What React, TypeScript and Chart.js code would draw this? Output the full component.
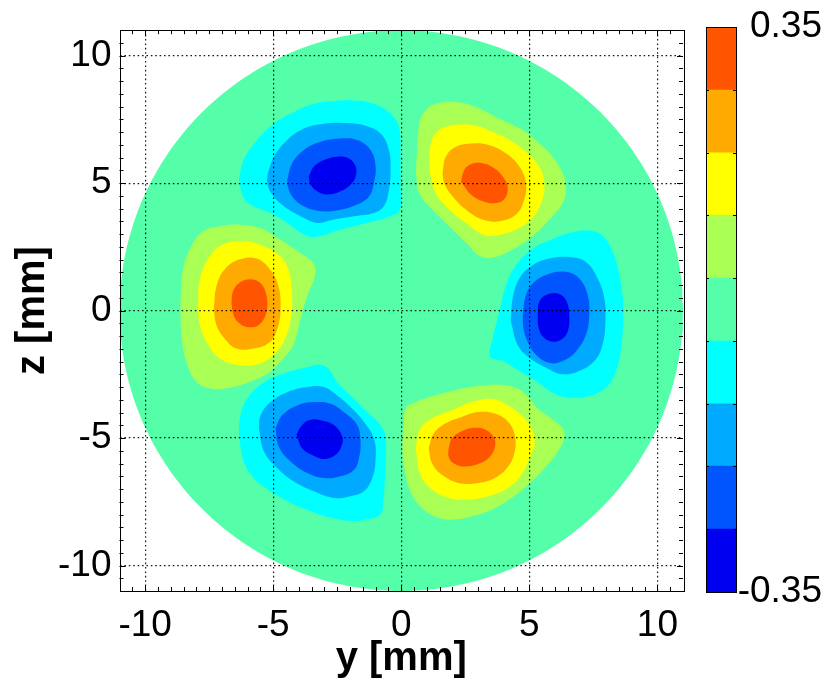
import React, { useEffect, useRef } from "react";
import { Chart, registerables, type ChartConfiguration, type Plugin } from "chart.js";

Chart.register(...registerables);

type Pt = [number, number];

const FONT = "'Liberation Sans', Arial, Helvetica, sans-serif";

// axes, in mm
const axisMin = -11;
const axisMax = 11;
const axisTicks = [-10, -5, 0, 5, 10];
const minorStep = 0.5;
const domainRadius = 11;

// filled contour colours, lowest level first
const levelColors = [
  "#0000F0",
  "#0055FF",
  "#00AAFF",
  "#00FFFF",
  "#55FFAA",
  "#AAFF55",
  "#FFFF00",
  "#FFAA00",
  "#FF5500",
];
const colorbarEdges = [-0.35, -0.272, -0.194, -0.117, -0.039, 0.039, 0.117, 0.194, 0.272, 0.35];
const colorbarLabels = [-0.35, 0.35];

// upper-left minimum
const nwLevel1: Pt[] = [
  [-6.34, 5.13], [-6.15, 5.91], [-5.63, 6.69], [-4.97, 7.33], [-4.19, 7.79], [-3.41, 8.11],
  [-2.63, 8.22], [-1.85, 8.24], [-1.07, 8.11], [-0.42, 7.72], [-0.09, 7.2], [-0.03, 6.3],
  [-0.03, 5.0], [-0.05, 3.96], [-0.42, 3.7], [-1.33, 3.44], [-2.37, 3.18], [-3.28, 2.9],
  [-3.8, 2.99], [-4.45, 3.44], [-5.1, 3.83], [-5.76, 4.09], [-6.15, 4.42],
];
const nwLevel2: Pt[] = [
  [-5.21, 5.39], [-4.97, 6.04], [-4.45, 6.69], [-3.8, 7.14], [-3.02, 7.33], [-2.24, 7.36],
  [-1.46, 7.27], [-0.81, 6.95], [-0.48, 6.3], [-0.42, 5.52], [-0.48, 4.74], [-0.68, 4.09],
  [-1.07, 3.83], [-1.85, 3.7], [-2.63, 3.57], [-3.28, 3.44], [-3.93, 3.7], [-4.58, 4.09],
  [-5.04, 4.55], [-5.23, 5.0],
];
const nwLevel3: Pt[] = [
  [-4.45, 5.13], [-4.26, 5.78], [-3.8, 6.3], [-3.15, 6.62], [-2.37, 6.75], [-1.72, 6.69],
  [-1.2, 6.3], [-1.0, 5.65], [-1.07, 5.0], [-1.26, 4.48], [-1.72, 4.16], [-2.37, 3.96],
  [-3.15, 3.9], [-3.8, 4.09], [-4.26, 4.48], [-4.43, 4.87],
];
const nwLevel4: Pt[] = [
  [-3.61, 5.26], [-3.41, 5.65], [-3.02, 5.91], [-2.5, 6.04], [-2.04, 5.97], [-1.78, 5.65],
  [-1.78, 5.26], [-1.98, 4.94], [-2.37, 4.68], [-2.89, 4.55], [-3.28, 4.68], [-3.54, 4.94],
];

// upper-right maximum
const neLevel1: Pt[] = [
  [0.57, 5.39], [0.7, 7.33], [0.9, 7.79], [1.35, 8.11], [2.14, 8.18], [2.92, 7.98],
  [3.83, 7.53], [4.74, 7.08], [5.39, 6.56], [5.91, 6.04], [6.3, 5.39], [6.43, 4.87],
  [6.3, 4.22], [5.78, 3.57], [5.13, 2.92], [4.35, 2.41], [3.57, 2.08], [3.05, 2.15],
  [2.53, 2.67], [1.88, 3.31], [1.22, 3.96], [0.7, 4.61],
];
const neLevel2: Pt[] = [
  [1.09, 5.52], [1.16, 6.56], [1.48, 7.08], [2.01, 7.27], [2.79, 7.27], [3.57, 7.01],
  [4.35, 6.62], [5.0, 6.1], [5.46, 5.52], [5.59, 4.87], [5.46, 4.22], [5.07, 3.57],
  [4.48, 3.18], [3.7, 2.95], [3.18, 2.99], [2.53, 3.44], [1.88, 3.96], [1.35, 4.61],
];
const neLevel3: Pt[] = [
  [1.61, 5.39], [1.74, 6.04], [2.14, 6.43], [2.79, 6.56], [3.44, 6.49], [4.09, 6.17],
  [4.61, 5.65], [4.87, 5.0], [4.8, 4.35], [4.48, 3.77], [3.83, 3.51], [3.18, 3.57],
  [2.53, 3.96], [2.01, 4.48], [1.68, 5.0],
];
const neLevel4: Pt[] = [
  [2.33, 5.06], [2.46, 5.52], [2.72, 5.74], [3.18, 5.78], [3.63, 5.58], [3.96, 5.26],
  [4.15, 4.87], [4.06, 4.42], [3.7, 4.22], [3.18, 4.29], [2.72, 4.55],
];

// left maximum
const wLevel1: Pt[] = [
  [-8.62, 0.32], [-8.52, 1.62], [-8.19, 2.53], [-7.73, 3.11], [-7.08, 3.31], [-6.3, 3.37],
  [-5.52, 3.24], [-4.74, 2.79], [-3.96, 2.27], [-3.41, 1.82], [-3.37, 1.36], [-3.57, 0.84],
  [-3.76, 0.32], [-3.96, -0.45], [-4.22, -1.36], [-4.61, -1.88], [-5.13, -2.4], [-5.91, -2.79],
  [-6.82, -3.05], [-7.47, -3.05], [-8.0, -2.79], [-8.39, -2.01], [-8.58, -0.97],
];
const wLevel2: Pt[] = [
  [-7.93, 0.06], [-7.86, 1.23], [-7.47, 2.14], [-6.95, 2.59], [-6.17, 2.72], [-5.39, 2.53],
  [-4.74, 2.14], [-4.41, 1.62], [-4.28, 0.84], [-4.28, -0.06], [-4.48, -0.97], [-4.87, -1.62],
  [-5.52, -2.08], [-6.3, -2.14], [-7.08, -1.88], [-7.6, -1.23], [-7.86, -0.58],
];
const wLevel3: Pt[] = [
  [-7.32, 0.06], [-7.21, 0.97], [-6.89, 1.62], [-6.3, 2.01], [-5.65, 2.04], [-5.13, 1.62],
  [-4.8, 0.97], [-4.71, 0.19], [-4.8, -0.58], [-5.13, -1.23], [-5.78, -1.49], [-6.43, -1.49],
  [-6.89, -1.1], [-7.21, -0.58],
];
const wLevel4: Pt[] = [
  [-6.63, 0.32], [-6.56, 0.78], [-6.3, 1.1], [-5.91, 1.23], [-5.52, 1.1], [-5.29, 0.71],
  [-5.23, 0.19], [-5.33, -0.26], [-5.59, -0.58], [-5.98, -0.65], [-6.3, -0.52], [-6.54, -0.19],
];

// right minimum
const eLevel1: Pt[] = [
  [3.44, -1.6], [3.57, -1.08], [3.83, -0.04], [4.09, 1.0], [4.48, 1.78], [5.13, 2.43],
  [5.91, 2.81], [6.69, 3.07], [7.34, 3.14], [7.86, 2.94], [8.26, 2.3], [8.52, 1.39],
  [8.65, 0.48], [8.67, -0.43], [8.58, -1.47], [8.39, -2.37], [7.99, -3.02], [7.34, -3.35],
  [6.56, -3.41], [5.91, -3.22], [5.26, -2.76], [4.61, -2.37], [3.96, -1.98], [3.5, -1.85],
];
const eLevel2: Pt[] = [
  [4.28, -0.43], [4.35, 0.48], [4.61, 1.26], [5.13, 1.78], [5.78, 2.04], [6.56, 2.1],
  [7.21, 1.91], [7.67, 1.26], [7.93, 0.48], [7.97, -0.43], [7.86, -1.34], [7.54, -1.98],
  [6.95, -2.37], [6.3, -2.5], [5.65, -2.24], [5.0, -1.85], [4.54, -1.34],
];
const eLevel3: Pt[] = [
  [4.74, -0.17], [4.87, 0.61], [5.2, 1.13], [5.78, 1.45], [6.43, 1.52], [6.95, 1.26],
  [7.28, 0.61], [7.34, -0.17], [7.21, -0.95], [6.82, -1.6], [6.3, -1.98], [5.78, -2.05],
  [5.26, -1.73], [4.93, -1.21], [4.77, -0.69],
];
const eLevel4: Pt[] = [
  [5.33, -0.17], [5.39, 0.35], [5.65, 0.61], [6.11, 0.67], [6.43, 0.42], [6.56, -0.17],
  [6.5, -0.82], [6.24, -1.14], [5.85, -1.21], [5.52, -1.01], [5.35, -0.62],
];

// lower-left minimum
const swLevel1: Pt[] = [
  [-6.34, -4.88], [-6.28, -4.11], [-6.02, -3.46], [-5.36, -2.81], [-4.45, -2.42], [-3.67, -2.22],
  [-3.15, -2.13], [-2.83, -2.29], [-2.5, -2.81], [-1.98, -3.33], [-1.33, -3.98], [-0.81, -4.49],
  [-0.61, -5.01], [-0.61, -5.92], [-0.65, -6.83], [-0.7, -7.48], [-0.81, -8.0], [-1.33, -8.19],
  [-1.85, -8.26], [-2.76, -8.13], [-3.54, -7.87], [-4.45, -7.48], [-5.1, -7.09], [-5.76, -6.57],
  [-6.15, -5.92],
];
const swLevel2: Pt[] = [
  [-5.56, -4.62], [-5.49, -4.11], [-5.1, -3.59], [-4.45, -3.2], [-3.67, -3.0], [-3.02, -3.0],
  [-2.5, -3.33], [-1.98, -3.78], [-1.46, -4.36], [-1.07, -5.01], [-1.0, -5.79], [-1.13, -6.57],
  [-1.46, -7.09], [-1.98, -7.28], [-2.63, -7.35], [-3.41, -7.09], [-4.19, -6.7], [-4.84, -6.18],
  [-5.36, -5.53],
];
const swLevel3: Pt[] = [
  [-4.91, -4.62], [-4.65, -4.11], [-4.06, -3.72], [-3.41, -3.59], [-2.76, -3.65], [-2.24, -3.98],
  [-1.72, -4.49], [-1.59, -5.14], [-1.65, -5.79], [-1.85, -6.25], [-2.37, -6.5], [-3.02, -6.57],
  [-3.67, -6.37], [-4.32, -5.92], [-4.78, -5.34],
];
const swLevel4: Pt[] = [
  [-4.09, -4.88], [-3.93, -4.56], [-3.61, -4.3], [-3.15, -4.3], [-2.63, -4.49], [-2.3, -4.95],
  [-2.34, -5.34], [-2.57, -5.66], [-3.02, -5.82], [-3.48, -5.66], [-3.87, -5.4],
];

// lower-right maximum
const seLevel1: Pt[] = [
  [0.1, -4.49], [0.17, -3.85], [0.56, -3.59], [1.33, -3.33], [2.36, -3.07], [3.14, -2.94],
  [3.91, -2.91], [4.56, -3.07], [4.95, -3.39], [5.34, -3.85], [5.85, -4.23], [6.3, -4.62],
  [6.37, -4.95], [6.11, -5.53], [5.59, -6.18], [4.95, -6.83], [4.3, -7.35], [3.66, -7.74],
  [3.01, -8.0], [2.11, -8.19], [1.46, -8.13], [0.81, -7.74], [0.36, -7.09], [0.1, -6.05],
  [0.04, -5.27],
];
const seLevel2: Pt[] = [
  [0.56, -5.4], [0.75, -4.62], [1.2, -4.23], [1.98, -3.91], [2.75, -3.59], [3.53, -3.46],
  [4.17, -3.72], [4.69, -4.11], [5.08, -4.62], [5.21, -5.21], [5.01, -5.79], [4.69, -6.44],
  [4.17, -6.96], [3.4, -7.28], [2.62, -7.41], [1.85, -7.35], [1.2, -7.02], [0.75, -6.44],
];
const seLevel3: Pt[] = [
  [1.07, -5.4], [1.27, -4.82], [1.72, -4.43], [2.36, -4.17], [3.01, -3.98], [3.66, -4.04],
  [4.17, -4.36], [4.43, -4.88], [4.43, -5.53], [4.17, -6.12], [3.66, -6.57], [3.01, -6.76],
  [2.24, -6.76], [1.59, -6.44], [1.2, -5.99],
];
const seLevel4: Pt[] = [
  [1.85, -5.4], [1.98, -5.01], [2.36, -4.73], [2.88, -4.6], [3.33, -4.69], [3.63, -5.01],
  [3.66, -5.34], [3.46, -5.73], [3.07, -5.99], [2.49, -6.12], [2.04, -5.99], [1.85, -5.73],
];

// circular domain outline
const diskOutline: Pt[] = Array.from({ length: 240 }, (_, i) => {
  const a = (i / 240) * Math.PI * 2;
  return [domainRadius * Math.cos(a), domainRadius * Math.sin(a)] as Pt;
});

const contours: { pts: Pt[]; level: number; smooth: boolean }[] = [
  { pts: diskOutline, level: 4, smooth: false },
  { pts: nwLevel1, level: 3, smooth: true },
  { pts: nwLevel2, level: 2, smooth: true },
  { pts: nwLevel3, level: 1, smooth: true },
  { pts: nwLevel4, level: 0, smooth: true },
  { pts: neLevel1, level: 5, smooth: true },
  { pts: neLevel2, level: 6, smooth: true },
  { pts: neLevel3, level: 7, smooth: true },
  { pts: neLevel4, level: 8, smooth: true },
  { pts: wLevel1, level: 5, smooth: true },
  { pts: wLevel2, level: 6, smooth: true },
  { pts: wLevel3, level: 7, smooth: true },
  { pts: wLevel4, level: 8, smooth: true },
  { pts: eLevel1, level: 3, smooth: true },
  { pts: eLevel2, level: 2, smooth: true },
  { pts: eLevel3, level: 1, smooth: true },
  { pts: eLevel4, level: 0, smooth: true },
  { pts: swLevel1, level: 3, smooth: true },
  { pts: swLevel2, level: 2, smooth: true },
  { pts: swLevel3, level: 1, smooth: true },
  { pts: swLevel4, level: 0, smooth: true },
  { pts: seLevel1, level: 5, smooth: true },
  { pts: seLevel2, level: 6, smooth: true },
  { pts: seLevel3, level: 7, smooth: true },
  { pts: seLevel4, level: 8, smooth: true },
];

// box with inward minor ticks, like the matlab axes
const framePlugin: Plugin<"line"> = {
  id: "frame",
  afterDraw(chart) {
    const { ctx, chartArea: a } = chart;
    const x = chart.scales.x;
    const y = chart.scales.y;
    ctx.save();
    ctx.strokeStyle = "#000";
    ctx.lineWidth = 1;
    ctx.beginPath();
    for (let v = axisMin + minorStep; v < axisMax; v += minorStep) {
      const len = axisTicks.includes(v) ? 6 : 4;
      const px = Math.round(x.getPixelForValue(v)) + 0.5;
      ctx.moveTo(px, a.bottom);
      ctx.lineTo(px, a.bottom - len);
      ctx.moveTo(px, a.top);
      ctx.lineTo(px, a.top + len);
      const py = Math.round(y.getPixelForValue(v)) + 0.5;
      ctx.moveTo(a.left, py);
      ctx.lineTo(a.left + len, py);
      ctx.moveTo(a.right, py);
      ctx.lineTo(a.right - len, py);
    }
    ctx.stroke();
    ctx.strokeRect(
      Math.round(a.left) + 0.5,
      Math.round(a.top) + 0.5,
      Math.round(a.right - a.left),
      Math.round(a.bottom - a.top),
    );
    ctx.restore();
  },
};

const colorbarFramePlugin: Plugin<"bar"> = {
  id: "cbframe",
  afterDraw(chart) {
    const { ctx, chartArea: a } = chart;
    const y = chart.scales.y;
    ctx.save();
    ctx.strokeStyle = "#000";
    ctx.lineWidth = 1;
    ctx.beginPath();
    for (const e of colorbarEdges.slice(1, -1)) {
      const py = Math.round(y.getPixelForValue(e)) + 0.5;
      ctx.moveTo(a.left, py);
      ctx.lineTo(a.left + 3, py);
      ctx.moveTo(a.right, py);
      ctx.lineTo(a.right - 3, py);
    }
    ctx.stroke();
    ctx.strokeRect(
      Math.round(a.left) + 0.5,
      Math.round(a.top) + 0.5,
      Math.round(a.right - a.left),
      Math.round(a.bottom - a.top),
    );
    ctx.restore();
  },
};

function ContourChart() {
  const canvasRef = useRef<HTMLCanvasElement | null>(null);
  const chartRef = useRef<Chart<"line"> | null>(null);

  useEffect(() => {
    if (!canvasRef.current) return;

    const datasets = contours.map((c, i) => ({
      data: [...c.pts, c.pts[0]].map(([x, y]) => ({ x, y })),
      backgroundColor: levelColors[c.level],
      borderColor: "transparent",
      borderWidth: 0,
      pointRadius: 0,
      pointHoverRadius: 0,
      fill: "shape" as const,
      tension: c.smooth ? 0.4 : 0,
      order: -i,
    }));

    const config: ChartConfiguration<"line"> = {
      type: "line",
      data: { datasets: datasets as any },
      options: {
        responsive: true,
        maintainAspectRatio: false,
        animation: false,
        events: [],
        layout: { padding: { left: 0, top: 27, right: 17, bottom: 0 } },
        plugins: {
          legend: { display: false },
          tooltip: { enabled: false },
        },
        scales: {
          x: {
            type: "linear",
            min: axisMin,
            max: axisMax,
            afterBuildTicks: (s) => {
              s.ticks = axisTicks.map((value) => ({ value }));
            },
            afterFit: (s) => {
              s.height = 92;
            },
            grid: { color: "rgba(0,0,0,0.9)", lineWidth: 1.2, drawTicks: false, z: 1 },
            border: { display: false, dash: [1.6, 2.8] },
            ticks: {
              color: "#000",
              padding: 13,
              maxRotation: 0,
              font: { family: FONT, size: 37 },
            },
            title: {
              display: true,
              text: "y [mm]",
              color: "#000",
              padding: 0,
              font: { family: FONT, size: 40, weight: "bold" },
            },
          },
          y: {
            type: "linear",
            min: axisMin,
            max: axisMax,
            afterBuildTicks: (s) => {
              s.ticks = axisTicks.map((value) => ({ value }));
            },
            afterFit: (s) => {
              s.width = 119.5;
            },
            grid: { color: "rgba(0,0,0,0.9)", lineWidth: 1.2, drawTicks: false, z: 1 },
            border: { display: false, dash: [1.6, 2.8] },
            ticks: {
              color: "#000",
              padding: 8,
              font: { family: FONT, size: 37 },
            },
            title: {
              display: true,
              text: "z [mm]",
              color: "#000",
              padding: { top: 9, bottom: 0 },
              font: { family: FONT, size: 40, weight: "bold" },
            },
          },
        },
      },
      plugins: [framePlugin],
    };

    chartRef.current = new Chart(canvasRef.current, config);

    return () => {
      chartRef.current?.destroy();
      chartRef.current = null;
    };
  }, []);

  return <canvas ref={canvasRef} />;
}

function Colorbar() {
  const canvasRef = useRef<HTMLCanvasElement | null>(null);
  const chartRef = useRef<Chart<"bar"> | null>(null);

  useEffect(() => {
    if (!canvasRef.current) return;

    const config: ChartConfiguration<"bar"> = {
      type: "bar",
      data: {
        labels: [""],
        datasets: levelColors.map((color, i) => ({
          data: [[colorbarEdges[i], colorbarEdges[i + 1]]] as any,
          backgroundColor: color,
          borderWidth: 0,
          barPercentage: 1,
          categoryPercentage: 1,
          grouped: false,
        })),
      },
      options: {
        responsive: true,
        maintainAspectRatio: false,
        animation: false,
        events: [],
        layout: { padding: { left: 6, top: 27, right: 8, bottom: 91 } },
        plugins: {
          legend: { display: false },
          tooltip: { enabled: false },
        },
        scales: {
          x: { display: false },
          y: {
            position: "right",
            min: colorbarEdges[0],
            max: colorbarEdges[colorbarEdges.length - 1],
            afterBuildTicks: (s) => {
              s.ticks = colorbarLabels.map((value) => ({ value }));
            },
            afterFit: (s) => {
              s.width = 86;
            },
            grid: { display: false },
            border: { display: false },
            ticks: {
              color: "#000",
              padding: 1,
              crossAlign: "far",
              font: { family: FONT, size: 37 },
              callback: (v) => String(v),
            },
          },
        },
      },
      plugins: [colorbarFramePlugin],
    };

    chartRef.current = new Chart(canvasRef.current, config);

    return () => {
      chartRef.current?.destroy();
      chartRef.current = null;
    };
  }, []);

  return <canvas ref={canvasRef} />;
}

export default function App() {
  return (
    <div style={{ position: "absolute", left: 0, top: 0, width: 830, height: 683, background: "#fff" }}>
      <div style={{ position: "absolute", left: 0, top: 0, width: 700, height: 683 }}>
        <ContourChart />
      </div>
      <div style={{ position: "absolute", left: 700, top: 0, width: 130, height: 683 }}>
        <Colorbar />
      </div>
    </div>
  );
}
